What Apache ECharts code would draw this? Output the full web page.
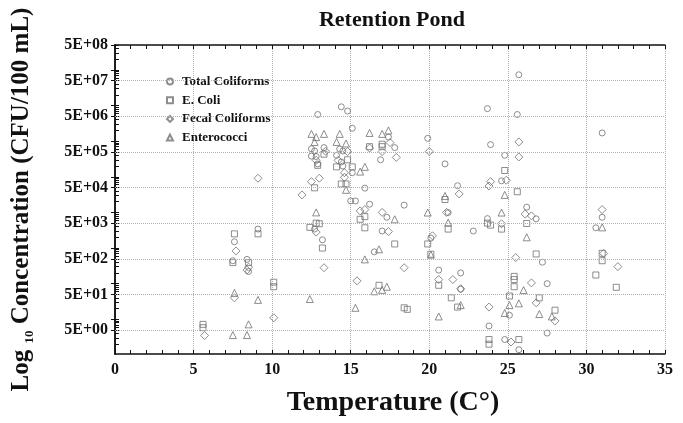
<!DOCTYPE html>
<html><head><meta charset="utf-8">
<script src="https://cdn.jsdelivr.net/npm/echarts@6/dist/echarts.min.js"></script>
<style>html,body{margin:0;padding:0;background:#fff}#c{width:683px;height:423px}</style>
</head><body><div id="c"></div>
<script>
// ---- data ----
const xTickValues = [0, 5, 10, 15, 20, 25, 30, 35];
const yTickValues = [5, 50, 500, 5e3, 5e4, 5e5, 5e6, 5e7, 5e8];
const yTickLabels = ['5E+00', '5E+01', '5E+02', '5E+03', '5E+04', '5E+05', '5E+06', '5E+07', '5E+08'];
const seriesNames = ['Total Coliforms', 'E. Coli', 'Fecal Coliforms', 'Enterococci'];

const totalColiforms = [
  [7.6,1500],[9.1,3400],[7.5,440],[8.4,480],[8.5,220],[12.9,5.6e6],[14.4,9.2e6],[14.8,7.0e6],[15.1,2.3e6],
  [12.5,6.1e5],[12.7,5.3e5],[13.3,6.6e5],[14.3,6.0e5],[14.5,5.3e5],[12.5,3.8e5],[12.8,3.7e5],[12.9,2.3e5],
  [14.1,4.0e5],[14.4,2.6e5],[14.5,2.0e5],[15.1,1.3e5],[15.9,4.8e4],[17.4,1.3e6],[17.8,6.6e5],[16.9,3.0e5],
  [19.9,1.2e6],[21.0,2.3e5],[21.8,5.6e4],[23.7,8.2e6],[23.9,8.0e5],[24.8,4.0e5],[24.6,7.7e4],[25.6,5.6e6],
  [25.7,7.3e7],[15.0,2.1e4],[15.3,2.1e4],[16.2,1.7e4],[17.3,7300],[18.4,1.6e4],[12.7,3400],[13.2,1700],
  [17.0,3000],[16.5,780],[21.2,9900],[22.8,3000],[20.1,1900],[23.7,6700],[20.6,240],[22.0,200],[22.0,70],
  [23.8,6.5],[25.1,13],[24.8,2.7],[25.7,1.4],[27.5,4.1],[31.0,1.7e6],[31.0,7300],[26.2,1.4e4],[26.8,6600],
  [27.2,400],[27.5,100],[30.6,3700]
];
const eColi = [
  [7.6,2500],[9.1,2500],[7.5,390],[8.5,390],[10.1,110],[10.1,82],[5.6,7.2],[5.6,5.8],[12.4,3800],[13.3,4.3e5],
  [12.9,2.1e5],[14.8,3.0e5],[14.1,1.9e5],[15.1,1.9e5],[12.7,4.9e4],[14.4,6.3e4],[14.7,6.3e4],[16.2,7.0e5],
  [17.0,8.2e5],[17.0,7.0e5],[24.8,1.5e5],[15.6,6400],[15.9,7600],[12.8,5000],[13.0,4800],[13.2,1000],
  [15.9,3700],[17.8,1300],[21.0,2.3e4],[21.2,3400],[19.9,1300],[20.1,670],[23.7,5000],[23.9,4400],[24.6,3400],
  [25.6,3.8e4],[16.8,90],[18.4,21],[18.6,19],[20.6,90],[21.4,40],[21.8,22],[23.8,2.7],[23.8,2.0],[25.1,45],
  [25.4,160],[25.4,130],[25.4,82],[25.7,2.7],[31.0,710],[31.0,440],[31.9,79],[30.6,175],[26.2,4900],
  [26.8,680],[27.0,40],[28.0,18]
];
const fecalColiforms = [
  [7.7,830],[8.5,290],[8.4,240],[7.6,40],[10.1,11],[5.7,3.5],[9.1,9.1e4],[11.9,3.1e4],[13.4,5.2e5],[12.8,2.9e5],
  [14.8,5.1e5],[14.2,2.9e5],[14.6,1.3e5],[12.5,7.3e4],[13.0,9.1e4],[14.6,9.7e4],[16.2,6.4e5],[17.0,5.1e5],
  [17.5,9.1e5],[17.9,3.5e5],[20.0,5.1e5],[21.9,3.3e4],[23.9,7.3e4],[23.8,5.5e4],[24.9,8.0e4],[25.7,9.5e5],
  [25.7,3.6e5],[15.6,1.1e4],[15.9,1.2e4],[17.0,1.0e4],[12.8,2800],[17.4,2900],[21.1,1.0e4],[20.2,2200],
  [24.6,4800],[13.3,280],[15.4,120],[18.4,280],[20.6,130],[21.5,130],[22.0,72],[23.8,22],[25.2,2.3],[25.5,540],
  [31.0,1.2e4],[31.1,700],[32.0,300],[26.1,9000],[26.5,8000],[26.5,105],[26.8,29],[28.0,9]
];
const enterococci = [
  [7.6,55],[9.1,35],[8.5,7.2],[7.5,3.6],[8.4,3.6],[12.4,37],[12.5,1.6e6],[12.8,1.3e6],[13.3,1.6e6],[14.3,1.6e6],
  [12.7,9.5e5],[14.1,9.5e5],[14.7,8.6e5],[14.7,4.3e4],[15.6,1.4e5],[15.9,1.9e5],[16.2,1.7e6],[17.0,1.6e6],
  [17.4,2.0e6],[21.0,2.9e4],[24.8,3.1e4],[12.8,1.0e4],[17.8,6400],[16.8,920],[15.9,480],[19.9,9900],[21.2,5200],
  [20.1,650],[24.6,9900],[15.3,21],[17.3,82],[16.5,61],[17.0,67],[22.0,25],[20.6,12],[24.8,15],[25.1,25],
  [25.7,28],[31.0,3800],[26.2,2000],[26.0,66],[27.0,14],[27.8,12]
];

// ---- chart ----
const FONT = 'Liberation Serif';
const Y_MIN = 1.06, Y_MAX = 5e8;
const minorTicks = [];
for (let n = 0; n <= 8; n++) for (let k = 1; k <= 9; k++) {
  const v = k * Math.pow(10, n);
  if (v >= Y_MIN && v <= Y_MAX) minorTicks.push(v);
}
const rightTicks = [];
for (let n = 0; n <= 8; n++) for (const k of [1, 5]) {
  const v = k * Math.pow(10, n);
  if (v >= Y_MIN && v <= Y_MAX) rightTicks.push(v);
}
function yLabel(v) {
  let best = 0, bd = Infinity;
  yTickValues.forEach((t, i) => { const d = Math.abs(Math.log10(v) - Math.log10(t)); if (d < bd) { bd = d; best = i; } });
  return bd < 0.01 ? yTickLabels[best] : '';
}
const mkStyle = { color: 'rgba(255,255,255,0)', borderColor: '#707070', borderWidth: 1 };
function mk(name, data, symbol, size) {
  return { name, type: 'scatter', data, symbol, symbolSize: size, itemStyle: mkStyle,
    emphasis: { disabled: true }, z: 3 };
}
const s = [
  mk(seriesNames[0], totalColiforms, 'circle', 6),
  mk(seriesNames[1], eColi, 'rect', 6),
  mk(seriesNames[2], fecalColiforms, 'diamond', 8),
  mk(seriesNames[3], enterococci, 'triangle', 7)
];
s[0].markLine = {
  silent: true, symbol: 'none', label: { show: false }, animation: false,
  lineStyle: { type: 'dotted', color: '#b0b0b0', width: 1 },
  data: yTickValues.slice(0, 8).map(v => ({ yAxis: v }))
};

const chart = echarts.init(document.getElementById('c'), null, { renderer: 'canvas' });
chart.setOption({
  animation: false,
  backgroundColor: '#fff',
  title: { text: 'Retention Pond', left: 387, top: 4, textAlign: 'center',
    textStyle: { fontFamily: FONT, fontWeight: 'bold', fontSize: 22, color: '#111' } },
  legend: {
    data: seriesNames, orient: 'vertical', left: 161, top: 70, itemWidth: 6, itemHeight: 6, itemGap: 5.7,
    symbolKeepAspect: true,
    textStyle: { fontFamily: FONT, fontWeight: 'bold', fontSize: 13, color: '#111', padding: [0, 0, 0, 4] }
  },
  grid: { left: 112.5, right: 18, top: 45, bottom: 69, containLabel: false },
  xAxis: [{
    type: 'value', min: 0, max: 35, interval: 5, position: 'bottom',
    name: 'Temperature (C°)', nameLocation: 'middle', nameGap: 35,
    nameTextStyle: { fontFamily: FONT, fontWeight: 'bold', fontSize: 28, color: '#111', padding: [0, 0, 0, 6] },
    axisLine: { show: true, lineStyle: { color: '#111', width: 1.5 } },
    axisTick: { show: true, inside: true, length: 4, lineStyle: { color: '#111' } },
    minorTick: { show: true, splitNumber: 5, length: 4, lineStyle: { color: '#111' } },
    axisLabel: { margin: 8, fontFamily: FONT, fontWeight: 'bold', fontSize: 16, color: '#111',
      formatter: v => (xTickValues.indexOf(v) >= 0 ? String(v) : '') },
    splitLine: { show: true, lineStyle: { type: 'dotted', color: '#b0b0b0', width: 1 } }
  }, {
    type: 'value', min: 0, max: 35, interval: 5, position: 'top',
    axisLine: { show: true, lineStyle: { color: '#111', width: 1.5 } },
    axisTick: { show: true, inside: true, length: 4, lineStyle: { color: '#111' } },
    minorTick: { show: true, splitNumber: 5, length: 4, lineStyle: { color: '#111' } },
    axisLabel: { show: false }, splitLine: { show: false }
  }],
  yAxis: [{
    type: 'log', min: Y_MIN, max: Y_MAX, position: 'left',
    name: 'Log {sub|10} Concentration (CFU/100 mL)', nameLocation: 'middle', nameGap: 79, nameRotate: 90,
    nameTextStyle: { fontFamily: FONT, fontWeight: 'bold', fontSize: 25, color: '#111', lineHeight: 28,
      padding: [0, 0, 0, 0],
      rich: { sub: { fontFamily: FONT, fontWeight: 'bold', fontSize: 13, color: '#111', verticalAlign: 'bottom', lineHeight: 28 } } },
    axisLine: { show: true, lineStyle: { color: '#111', width: 1.5 } },
    axisTick: { show: true, inside: true, length: 4, customValues: minorTicks, lineStyle: { color: '#111' } },
    axisLabel: { margin: 7, customValues: yTickValues, fontFamily: FONT, fontWeight: 'bold', fontSize: 16, color: '#111',
      formatter: yLabel },
    splitLine: { show: false }
  }, {
    type: 'log', min: Y_MIN, max: Y_MAX, position: 'right',
    axisLine: { show: true, lineStyle: { color: '#111', width: 1.5 } },
    axisTick: { show: true, inside: true, length: 4, customValues: rightTicks, lineStyle: { color: '#111' } },
    axisLabel: { show: false }, splitLine: { show: false }
  }],
  series: s
});
</script>
</body></html>
